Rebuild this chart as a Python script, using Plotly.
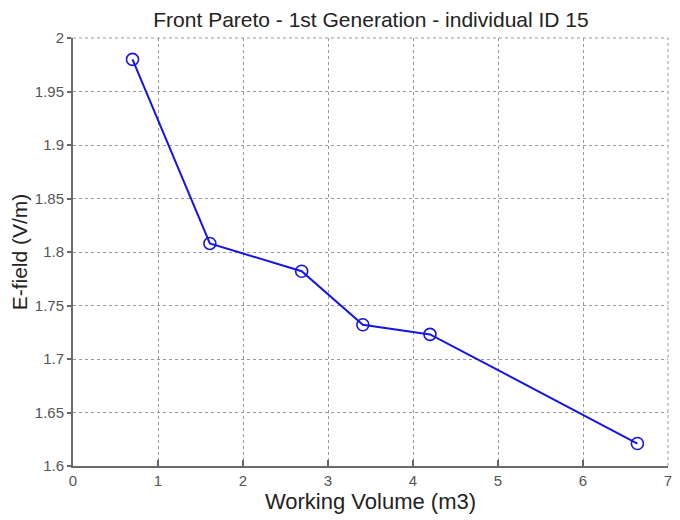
import plotly.graph_objects as go

volume = [0.70, 1.61, 2.69, 3.41, 4.20, 6.64]
efield = [1.980, 1.808, 1.782, 1.732, 1.723, 1.621]
x_ticks = [0, 1, 2, 3, 4, 5, 6, 7]
y_ticks = [1.6, 1.65, 1.7, 1.75, 1.8, 1.85, 1.9, 1.95, 2.0]
y_tick_text = ["1.6", "1.65", "1.7", "1.75", "1.8", "1.85", "1.9", "1.95", "2"]

W, H = 672, 512
fig = go.Figure()
fig.add_trace(go.Scatter(
    x=volume, y=efield, mode="lines+markers",
    line=dict(color="#1515e6", width=2),
    marker=dict(symbol="circle-open", size=12, color="#1515e6", line=dict(width=1.6)),
    showlegend=False,
))

font = "Liberation Sans, Arial, sans-serif"
fig.update_layout(
    width=W, height=H,
    margin=dict(l=65, r=12, t=30, b=54),
    paper_bgcolor="white", plot_bgcolor="white",
    font=dict(family=font, color="#222"),
    title=dict(text="Front Pareto - 1st Generation - individual ID 15",
               x=(371 - 8) / W, xanchor="center", y=1 - 12 / H, yanchor="middle",
               font=dict(size=21, color="#222")),
)
fig.update_xaxes(
    range=[0, 7], tickvals=x_ticks, ticks="inside", ticklen=6, tickcolor="#666", tickwidth=1.5,
    showline=True, linecolor="#6a6a6a", linewidth=2, mirror=False,
    showgrid=True, gridcolor="#999", griddash="dot", gridwidth=1,
    zeroline=False, tickfont=dict(size=15, color="#555"),
    automargin=False,
    title=dict(text="Working Volume (m3)", font=dict(size=22, color="#222"), standoff=3),
)
fig.update_yaxes(
    range=[1.6, 2.0], tickvals=y_ticks, ticktext=y_tick_text,
    ticks="outside", ticklen=4, tickcolor="#666", tickwidth=1.5,
    showline=True, linecolor="#6a6a6a", linewidth=2, mirror=False,
    showgrid=True, gridcolor="#999", griddash="dot", gridwidth=1,
    zeroline=False, tickfont=dict(size=15, color="#555"),
    automargin=False,
    title=dict(text="E-field (V/m)", font=dict(size=21, color="#222"), standoff=4),
)
fig.add_shape(type="line", xref="paper", yref="paper", x0=0, x1=1, y0=1, y1=1,
              line=dict(color="#999", width=1, dash="dot"))
fig.add_shape(type="line", xref="paper", yref="paper", x0=1, x1=1, y0=0, y1=1,
              line=dict(color="#999", width=1, dash="dot"))

fig.write_html("out.html")
